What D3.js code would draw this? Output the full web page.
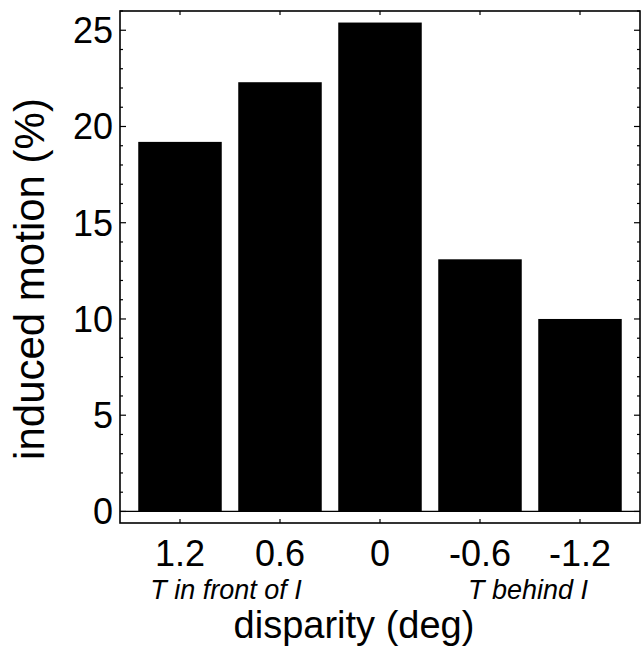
<!DOCTYPE html>
<html lang="en">
<head>
<meta charset="UTF-8">
<title>induced motion vs disparity</title>
<style>
body {
  margin: 0;
  padding: 0;
  background-color: #fff;
}
text {
  font-family: "Liberation Sans", Arial, Helvetica, sans-serif;
  fill: #000;
}
.frame {
  fill: none;
  stroke: #000;
  stroke-width: 1.6;
}
.tick-mark {
  stroke: #000;
  stroke-width: 1.2;
}
.bar {
  fill: #000;
}
</style>
</head>
<body>
<div class="vizHolder"></div>
<script src="https://cdnjs.cloudflare.com/ajax/libs/d3/7.8.5/d3.min.js"></script>
<script>
// data
var disparity = ["1.2", "0.6", "0", "-0.6", "-1.2"];
var motion = [19.2, 22.3, 25.4, 13.1, 10.0];
var yTicks = [0, 5, 10, 15, 20, 25];
var yMinor = d3.range(0, 27, 1);
var notes = ["T in front of I", "T behind I"];

var W = 644, H = 652;
var pLeft = 120, pRight = 640, pTop = 11, pBottom = 523;

var svg = d3.select('.vizHolder').
append('svg').
attr('width', W).
attr('height', H);

// categories sit at 1..5, frame spans 0.4..5.6
var xScale = d3.scaleLinear().
domain([0.4, 5.6]).
range([pLeft, pRight]);

var yScale = d3.scaleLinear().
domain([-0.6, 26]).
range([pBottom, pTop]);

var barW = 0.835;

// bars
svg.selectAll('.bar').
data(motion).
enter().append('rect').
attr('class', 'bar').
attr('x', function (d, i) {return xScale(i + 1 - barW / 2);}).
attr('width', function () {return xScale(barW) - xScale(0);}).
attr('y', function (d) {return yScale(d);}).
attr('height', function (d) {return yScale(0) - yScale(d);});

// zero line
svg.append('line').
attr('class', 'tick-mark').
attr('x1', pLeft).attr('x2', pRight).
attr('y1', yScale(0)).attr('y2', yScale(0));

// frame
svg.append('rect').
attr('class', 'frame').
attr('x', pLeft).attr('y', pTop).
attr('width', pRight - pLeft).
attr('height', pBottom - pTop);

// y ticks on both sides, minor every unit
var yt = svg.append('g');
yMinor.forEach(function (v) {
  var len = v % 5 === 0 ? 6 : 3;
  yt.append('line').attr('class', 'tick-mark').
  attr('x1', pLeft).attr('x2', pLeft + len).
  attr('y1', yScale(v)).attr('y2', yScale(v));
  yt.append('line').attr('class', 'tick-mark').
  attr('x1', pRight).attr('x2', pRight - len).
  attr('y1', yScale(v)).attr('y2', yScale(v));
});

svg.selectAll('.ylab').
data(yTicks).
enter().append('text').
attr('class', 'ylab').
attr('x', 113).
attr('y', function (d) {return yScale(d);}).
attr('dy', '0.36em').
style('text-anchor', 'end').
style('font-size', '36px').
text(function (d) {return d;});

// x ticks top and bottom
disparity.forEach(function (d, i) {
  var x = xScale(i + 1);
  svg.append('line').attr('class', 'tick-mark').
  attr('x1', x).attr('x2', x).
  attr('y1', pTop).attr('y2', pTop + 4);
  svg.append('line').attr('class', 'tick-mark').
  attr('x1', x).attr('x2', x).
  attr('y1', pBottom).attr('y2', pBottom - 4);
});

svg.selectAll('.xlab').
data(disparity).
enter().append('text').
attr('class', 'xlab').
attr('x', function (d, i) {return xScale(i + 1);}).
attr('y', 566).
style('text-anchor', 'middle').
style('font-size', '36px').
text(function (d) {return d;});

// italic notes under the ticks
svg.append('text').
attr('x', 226).
attr('y', 599).
style('text-anchor', 'middle').
style('font-size', '27px').
style('font-style', 'italic').
text(notes[0]);

svg.append('text').
attr('x', 528).
attr('y', 599).
style('text-anchor', 'middle').
style('font-size', '27px').
style('font-style', 'italic').
text(notes[1]);

// axis titles
svg.append('text').
attr('x', 354).
attr('y', 638).
style('text-anchor', 'middle').
style('font-size', '38px').
text('disparity (deg)');

svg.append('text').
attr('transform', 'translate(44,' + 279 + ') rotate(-90)').
style('text-anchor', 'middle').
style('font-size', '42px').
text('induced motion (%)');
</script>
</body>
</html>
